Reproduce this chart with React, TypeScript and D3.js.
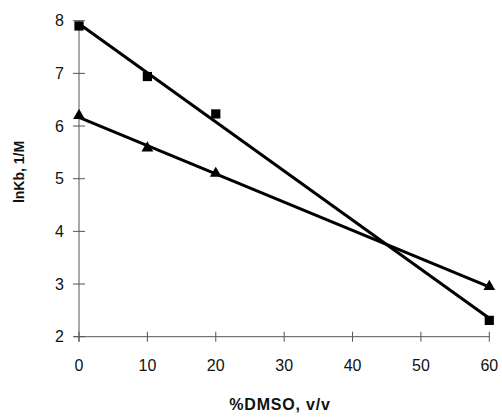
import React from "react";
import * as d3 from "d3";

const xTicks = [0, 10, 20, 30, 40, 50, 60];
const yTicks = [2, 3, 4, 5, 6, 7, 8];
const dmso = [0, 10, 20, 60];
const squareValues = [7.9, 6.94, 6.23, 2.31];
const triangleValues = [6.2, 5.58, 5.1, 2.95];

const W = 502;
const H = 418;

function fit(xs: number[], ys: number[]) {
  const mx = d3.mean(xs)!;
  const my = d3.mean(ys)!;
  const sxy = d3.sum(xs.map((x, i) => (x - mx) * (ys[i] - my)));
  const sxx = d3.sum(xs.map((x) => (x - mx) ** 2));
  const b = sxy / sxx;
  const a = my - b * mx;
  return (x: number) => a + b * x;
}

export default function App() {
  const x = d3.scaleLinear().domain([0, 60]).range([79, 489.3]);
  const y = d3.scaleLinear().domain([2, 8]).range([336.7, 20.7]);
  const line = d3.line<[number, number]>().x((d) => x(d[0])).y((d) => y(d[1]));
  const fs = fit(dmso, squareValues);
  const ft = fit(dmso, triangleValues);
  const sq = d3.symbol().type(d3.symbolSquare).size(85)();
  const tri = d3.symbol().type(d3.symbolTriangle).size(60)();
  const font = "'Liberation Sans', Arial, sans-serif";
  return (
    <svg width={W} height={H} style={{ position: "absolute", left: 0, top: 0 }}>
      <rect width={W} height={H} fill="#fff" />
      {/* axes */}
      <line x1={x(0)} x2={x(0)} y1={y(8)} y2={y(2) + 5} stroke="#555" strokeWidth={1} />
      <line x1={x(0) - 5} x2={x(60)} y1={y(2)} y2={y(2)} stroke="#555" strokeWidth={1} />
      {yTicks.map((t) => (
        <g key={"y" + t}>
          <line x1={x(0) - 6} x2={x(0) + 6} y1={y(t)} y2={y(t)} stroke="#555" strokeWidth={1} />
          <text x={64} y={y(t)} dy="0.35em" textAnchor="end" fontFamily={font} fontSize={16} fill="#111">
            {t}
          </text>
        </g>
      ))}
      {xTicks.map((t) => (
        <g key={"x" + t}>
          <line x1={x(t)} x2={x(t)} y1={y(2) - 5} y2={y(2) + 5} stroke="#555" strokeWidth={1} />
          <text x={x(t)} y={365} dy="0.35em" textAnchor="middle" fontFamily={font} fontSize={16} fill="#111">
            {t}
          </text>
        </g>
      ))}
      <text x={280} y={410} textAnchor="middle" fontFamily={font} fontSize={16} fontWeight="bold" letterSpacing={0.8} fill="#111">
        %DMSO, v/v
      </text>
      <text
        transform={`translate(24,172) rotate(-90)`}
        textAnchor="middle"
        fontFamily={font}
        fontSize={14}
        fontWeight="bold"
        fill="#111"
      >
        lnKb, 1/M
      </text>
      {/* fit lines */}
      <path d={line([[0, fs(0)], [60, fs(60)]])!} stroke="#000" strokeWidth={3} fill="none" />
      <path d={line([[0, ft(0)], [60, ft(60)]])!} stroke="#000" strokeWidth={3} fill="none" />
      {dmso.map((d, i) => (
        <path key={"s" + i} d={sq!} transform={`translate(${x(d)},${y(squareValues[i])})`} fill="#000" />
      ))}
      {dmso.map((d, i) => (
        <path key={"t" + i} d={tri!} transform={`translate(${x(d)},${y(triangleValues[i])})`} fill="#000" />
      ))}
    </svg>
  );
}
